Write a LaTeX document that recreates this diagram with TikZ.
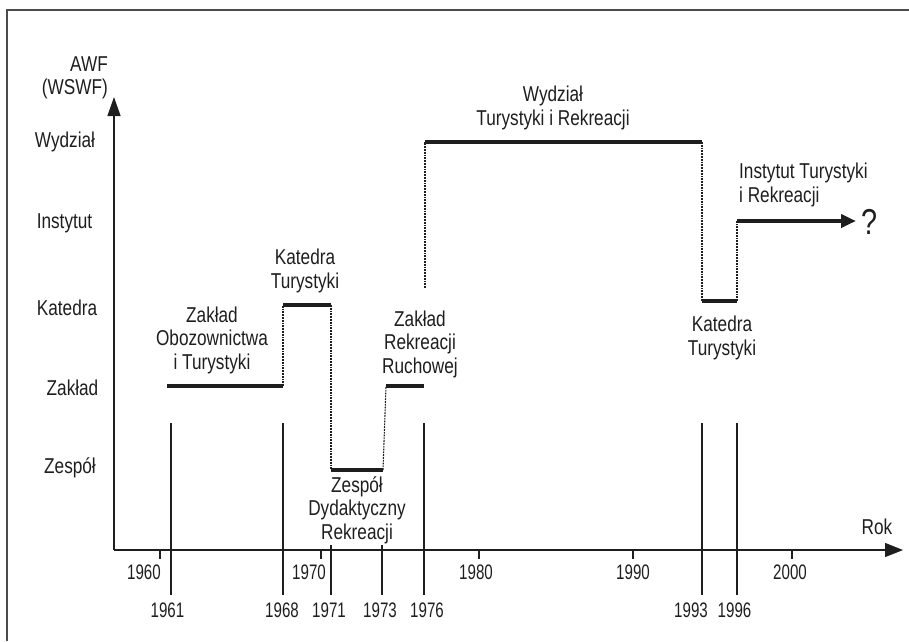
\documentclass[tikz,border=0pt]{standalone}
\usepackage{fontspec}
\setmainfont{Liberation Sans}[FakeStretch=0.8]
\newfontfamily\yearfont{Liberation Sans}[FakeStretch=0.72]
\usetikzlibrary{arrows.meta}
\definecolor{ink}{HTML}{1E1E1E}
\begin{document}
\begin{tikzpicture}[x=1pt,y=-1pt,
  lbl/.style={font=\fontsize{21.5}{23.5}\selectfont, inner sep=0pt, align=center, text=ink},
  yr/.style={lbl, font=\yearfont\fontsize{21}{23}\selectfont},
  bar/.style={line width=4.8pt, ink},
  link/.style={dash pattern=on 1.8pt off 1pt, line width=1.1pt, ink},
  vline/.style={line width=1.1pt, ink},
  axis/.style={line width=1.3pt, ink},
  tick/.style={line width=1.1pt, ink}]
\useasboundingbox (0,0) rectangle (909,641);
% frame
\coordinate (fbl) at (7,641);
\coordinate (ftl) at (7,10);
\coordinate (ftr) at (909,10);
\draw[line width=2pt, black!70] (fbl) -- (ftl) -- (ftr);
% axes
\coordinate (O) at (114,550);
\coordinate (ytop) at (114,97);
\coordinate (xend) at (903,550);
\draw[axis, -{Triangle[length=19pt,width=13pt]}] (O) -- (ytop);
\draw[axis, -{Triangle[length=18pt,width=14pt]}] (O) -- (xend);
% axis labels
\node[lbl, align=right, anchor=east] (awf) at (108,78) {AWF\\(WSWF)};
\node[lbl] (rok) at (877,527) {Rok};
\node[lbl] (lw) at (65,142) {Wydział};
\node[lbl] (li) at (64.5,223) {Instytut};
\node[lbl] (lk) at (67,308) {Katedra};
\node[lbl] (lz) at (72.5,388) {Zakład};
\node[lbl] (le) at (70,468) {Zespół};
% ticks and decade labels
\foreach \x/\lx/\n in {160/144/1960, 321/309/1970, 479/476/1980, 633/633/1990, 792/790/2000}{
  \coordinate (t\n a) at (\x,550);
  \coordinate (t\n b) at (\x,559);
  \draw[tick] (t\n a) -- (t\n b);
  \node[yr] (d\n) at (\lx,572) {\n};
}
% year lines
\foreach \x/\top/\lx/\n in {171/423/167.5/1961, 283/423/282/1968, 331/545/329/1971, 382/545/380/1973, 424/423/427/1976, 702/423/691/1993, 737/423/734.5/1996}{
  \coordinate (v\n a) at (\x,\top);
  \coordinate (v\n b) at (\x,595);
  \draw[vline] (v\n a) -- (v\n b);
  \node[yr] (y\n) at (\lx,610) {\n};
}
% bars
\coordinate (b1s) at (167,386); \coordinate (b1e) at (283,386);
\coordinate (b2s) at (283,305); \coordinate (b2e) at (331,305);
\coordinate (b3s) at (331,470); \coordinate (b3e) at (383,470);
\coordinate (b4s) at (386,386); \coordinate (b4e) at (424,386);
\coordinate (b5s) at (425,142); \coordinate (b5e) at (702,142);
\coordinate (b6s) at (702,301); \coordinate (b6e) at (737,301);
\coordinate (b7s) at (737,221); \coordinate (b7e) at (856,221);
\coordinate (c5) at (425,288);
\draw[bar] (b1s) -- (b1e);
\draw[bar] (b2s) -- (b2e);
\draw[bar] (b3s) -- (b3e);
\draw[bar] (b4s) -- (b4e);
\draw[bar] (b5s) -- (b5e);
\draw[bar] (b6s) -- (b6e);
\draw[bar, -{Triangle[length=15pt,width=13pt]}] (b7s) -- (b7e);
% dotted links
\draw[link] (b1e) -- (b2s);
\draw[link] (b2e) -- (b3s);
\draw[link] (b3e) -- (b4s);
\draw[link] (c5) -- (b5s);
\draw[link] (b5e) -- (b6s);
\draw[link] (b6e) -- (b7s);
% labels
\node[lbl] (n1) at (212,340) {Zakład\\Obozownictwa\\i Turystyki};
\node[lbl] (n2) at (305,271) {Katedra\\Turystyki};
\node[lbl] (n3) at (357,510) {Zespół\\Dydaktyczny\\Rekreacji};
\node[lbl] (n4) at (420,344) {Zakład\\Rekreacji\\Ruchowej};
\node[lbl] (n5) at (553,108) {Wydział\\Turystyki i Rekreacji};
\node[lbl] (n6) at (722,338) {Katedra\\Turystyki};
\node[lbl, align=left, anchor=west] (n7) at (739,185) {Instytut Turystyki\\i Rekreacji};
\node[lbl, font=\fontsize{36}{38}\selectfont] (q) at (869,222) {?};
\end{tikzpicture}
\end{document}
